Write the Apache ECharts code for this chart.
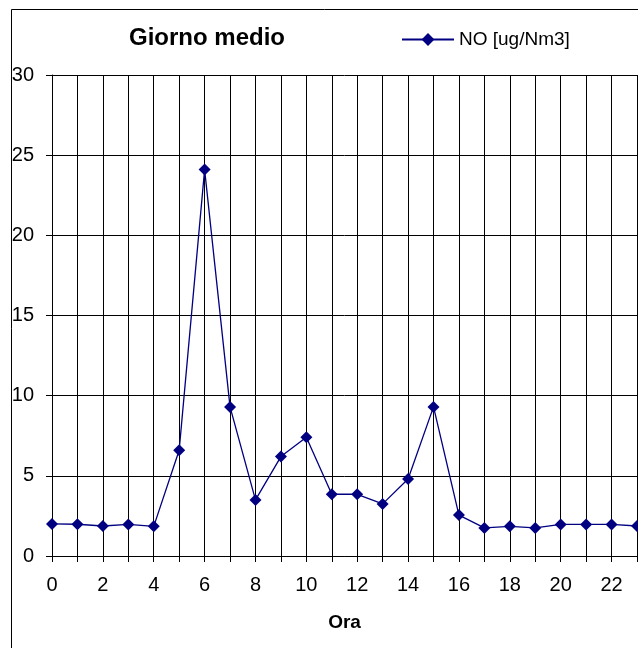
<!DOCTYPE html>
<html>
<head>
<meta charset="utf-8">
<script src="https://cdn.jsdelivr.net/npm/echarts@6/dist/echarts.min.js"></script>
<style>
  html, body { margin: 0; padding: 0; background: #fff; }
  #chart { width: 638px; height: 648px; }
</style>
</head>
<body>
<div id="chart"></div>
<script>
// Hours of the day (categories) and the mean NO concentration per hour
const hours = ['0','1','2','3','4','5','6','7','8','9','10','11','12','13','14','15','16','17','18','19','20','21','22','23'];
const noValues = [2.0, 1.98, 1.87, 1.97, 1.85, 6.6, 24.1, 9.3, 3.5, 6.2, 7.4, 3.85, 3.85, 3.25, 4.8, 9.3, 2.55, 1.75, 1.85, 1.75, 1.97, 1.97, 1.97, 1.87];
const seriesName = 'NO [ug/Nm3]';
const chartTitle = 'Giorno medio';
const xAxisName = 'Ora';

const FONT = 'Liberation Sans, Arial, sans-serif';
const chart = echarts.init(document.getElementById('chart'), null, { renderer: 'canvas' });

chart.setOption({
  backgroundColor: '#ffffff',
  animation: false,
  title: {
    text: chartTitle,
    left: 124,
    top: 21,
    textStyle: { fontFamily: FONT, fontSize: 24, fontWeight: 'bold', color: '#000' }
  },
  legend: {
    left: 396,
    top: 25,
    itemWidth: 52,
    itemHeight: 16,
    itemGap: 5,
    textStyle: { fontFamily: FONT, fontSize: 19, color: '#000' },
    data: [seriesName]
  },
  grid: { left: 52, right: 1, top: 75, bottom: 92, containLabel: false },
  xAxis: {
    type: 'category',
    data: hours,
    boundaryGap: false,
    name: xAxisName,
    nameLocation: 'middle',
    nameGap: 57,
    nameTextStyle: { fontFamily: FONT, fontSize: 19, fontWeight: 'bold', color: '#000' },
    axisLine: { lineStyle: { color: '#000', width: 1 } },
    axisTick: { show: true, alignWithLabel: true, interval: 0, length: 6, lineStyle: { color: '#000' } },
    axisLabel: { interval: 1, margin: 19, fontFamily: FONT, fontSize: 20, color: '#000' },
    splitLine: { show: true, interval: 0, lineStyle: { color: '#000', width: 1 } }
  },
  yAxis: {
    type: 'value',
    min: 0,
    max: 30,
    interval: 5,
    axisLine: { show: true, lineStyle: { color: '#000', width: 1 } },
    axisTick: { show: true, length: 6, lineStyle: { color: '#000' } },
    axisLabel: { margin: 18, fontFamily: FONT, fontSize: 20, color: '#000' },
    splitLine: { show: true, lineStyle: { color: '#000', width: 1 } }
  },
  graphic: [
    // outer chart-area frame (runs past the right and bottom edges)
    { type: 'line', silent: true, shape: { x1: 11.5, y1: 9.5, x2: 638, y2: 9.5 }, style: { stroke: '#000', lineWidth: 1 } },
    { type: 'line', silent: true, shape: { x1: 11.5, y1: 9.5, x2: 11.5, y2: 648 }, style: { stroke: '#000', lineWidth: 1 } }
  ],
  series: [{
    name: seriesName,
    type: 'line',
    data: noValues,
    symbol: 'diamond',
    symbolSize: 12,
    showAllSymbol: true,
    itemStyle: { color: '#000080' },
    lineStyle: { color: '#000080', width: 1.3 },
    clip: false
  }]
});
</script>
</body>
</html>
